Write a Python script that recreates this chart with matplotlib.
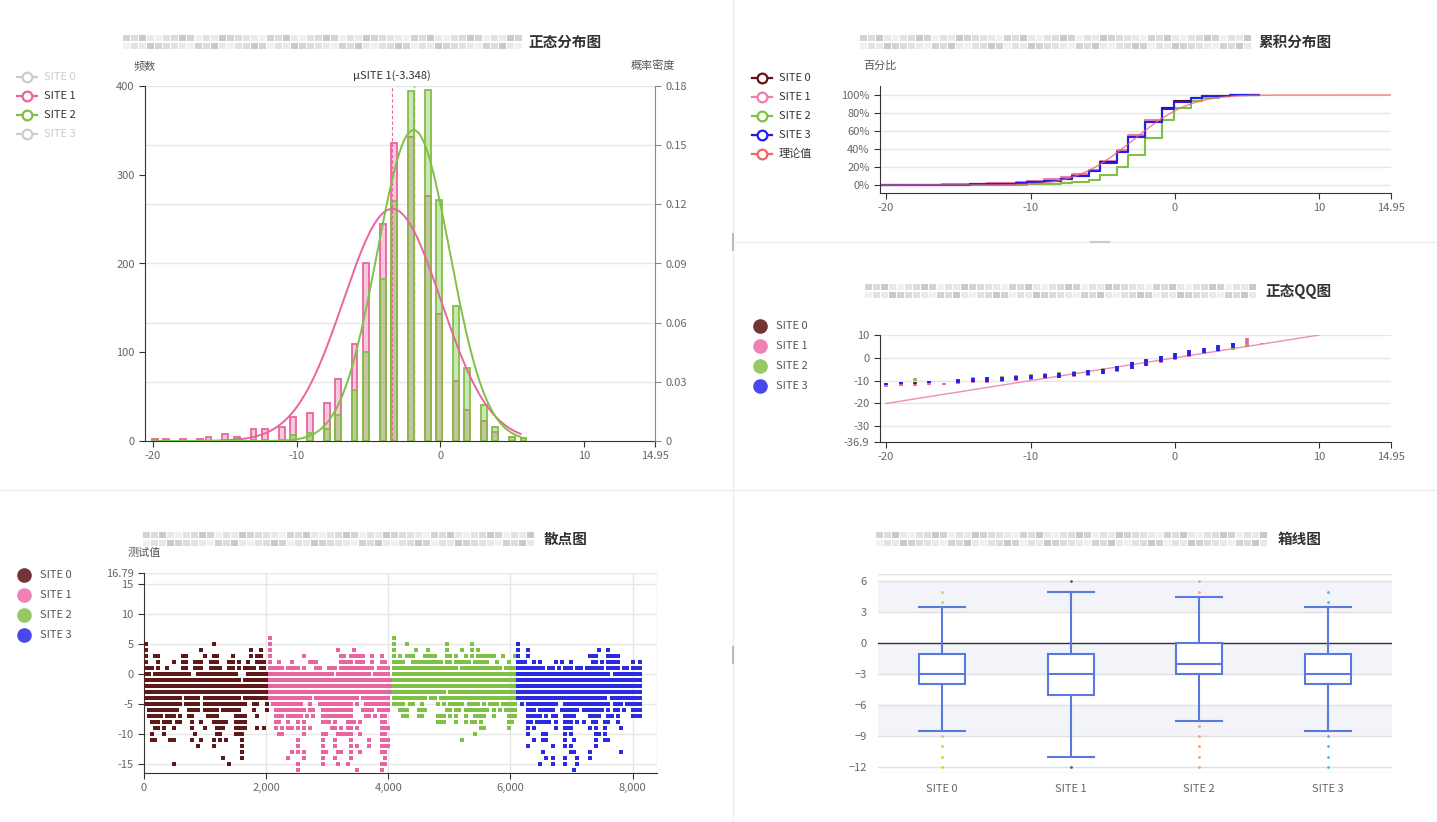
import math
import numpy as np
import matplotlib
matplotlib.use("Agg")
import matplotlib.pyplot as plt
from matplotlib.lines import Line2D
from matplotlib.patches import Rectangle

plt.rcParams['font.family'] = ['Noto Sans CJK SC', 'DejaVu Sans']

# ---------------- data ----------------
SITES = ["SITE 0", "SITE 1", "SITE 2", "SITE 3"]

# histogram bins (bar centres) and counts
BIN_X = [-19.87, -19.1, -17.94, -16.73, -16.13, -14.97, -14.18, -13.0, -12.2,
         -11.04, -10.25, -9.09, -7.91, -7.14, -5.98, -5.18, -4.0, -3.23,
         -2.05, -0.87, -0.07, 1.08, 1.88, 3.04, 3.83, 5.01, 5.79]
HIST_SITE0 = [1, 1, 1, 1, 2, 5, 4, 9, 9, 12, 20, 28, 40, 75, 115, 190, 235,
              350, 340, 300, 160, 75, 38, 16, 10, 3, 0]
HIST_SITE1 = [2, 2, 2, 2, 4, 8, 5, 14, 13, 16, 27, 32, 43, 70, 109, 201, 245,
              336, 342, 276, 143, 68, 35, 22, 10, 5, 3]
HIST_SITE2 = [0, 0, 1, 0, 0, 1, 2, 1, 1, 1, 7, 9, 14, 29, 58, 100, 183,
              270, 394, 396, 271, 152, 82, 40, 16, 5, 3]
HIST_SITE3 = [1, 1, 1, 1, 2, 4, 4, 8, 8, 10, 20, 25, 40, 70, 120, 180, 240,
              360, 330, 300, 160, 80, 40, 15, 10, 3, 2]

# normal fit parameters
MEAN = [-3.2, -3.348, -1.86, -3.1]
STD = [3.3, 3.39, 2.53, 3.2]
CURVE_RANGE = (-20.0, 5.6)
THEORY_MEAN, THEORY_STD = -2.9, 3.1

# QQ plot clusters (theoretical x, sample range lo..hi)
QQ_X = list(range(-20, 7))
QQ_LO = [
    [-12.0, -11.8, -11.6, -11.2, None, -10.8, -10.5, -10.3, -10.0, -9.7, -9.3, -8.9, -8.5, -7.9,
     -7.5, -6.9, -5.7, -4.6, -3.3, -1.8, -0.3, 0.8, 1.9, 3.0, 4.1, None, None],
    [-13.0, -12.5, -12.5, -12.0, -12.0, -11.5, -11.0, -11.0, -10.5, -10.0, -9.8, -9.3, -9.0, -8.3,
     -8.0, -7.3, -6.0, -5.0, -3.6, -2.2, -0.8, 0.5, 1.7, 2.7, 4.0, 4.8, None],
    [None, None, -10.0, None, None, None, -9.5, -9.2, -8.8, -8.5, -8.2, -7.8, -7.4, -6.8,
     -6.2, -5.5, -4.5, -3.5, -2.2, -1.2, -0.3, 0.7, 1.7, 2.7, 3.6, 5.0, 6.0],
    [-12.1, -11.6, None, -11.2, None, -11.0, -10.7, -10.5, -10.1, -9.8, -9.5, -9.0, -8.8, -8.0,
     -7.7, -7.0, -5.8, -4.8, -3.4, -1.9, -0.4, 0.7, 1.9, 2.9, 4.2, None, None],
]
QQ_HI = [
    [-11.0, -10.8, -10.5, -10.3, None, -9.7, -9.2, -9.0, -8.6, -8.2, -7.9, -7.5, -7.0, -6.2,
     -5.7, -5.0, -3.8, -2.0, -0.8, 0.9, 2.0, 3.2, 4.0, 5.2, 6.4, None, None],
    [-12.0, -11.5, -11.5, -11.0, -11.0, -10.5, -10.0, -9.8, -9.5, -9.2, -9.0, -8.5, -8.0, -7.3,
     -6.8, -6.2, -5.0, -3.0, -1.5, 0.0, 1.5, 2.8, 3.8, 5.0, 5.8, 8.5, None],
    [None, None, -9.0, None, None, None, -8.5, -8.3, -8.0, -7.6, -7.2, -6.8, -6.4, -5.8,
     -5.3, -4.6, -3.5, -2.5, -1.2, 0.0, 1.0, 2.0, 3.0, 4.0, 5.0, 6.0, 6.4],
    [-11.0, -10.6, None, -10.3, None, -9.5, -8.8, -8.6, -8.3, -8.0, -7.7, -7.3, -6.7, -6.0,
     -5.4, -4.8, -3.6, -1.8, -0.7, 1.0, 2.2, 3.4, 4.2, 5.4, 6.6, None, None],
]
QQ_LINE_X = [-20, 10]
QQ_LINE_Y = [-20, 10]

# scatter: each site = 2035 tests, drawn as 40 columns; "a-b" = occupied columns per value
N_PER_SITE = 2035
CELLS = 40
SCATTER_SITE0 = {
    5: "0 22", 4: "0 18 34 37", 3: "0 3-4 12-13 19 22-23 28 34 36-37",
    2: "0 4 9 12-13 16-18 21-23 27-28 30 33 36-38",
    1: "0-2 4 7 12-13 16-18 21-24 27-28 30 32-35 37-38",
    0: "0-1 3-14 17-29 33-39", -1: "0-30 32-39", -2: "0-39", -3: "0-39",
    -4: "0-11 13-17 19-30 32-39", -5: "0-11 13-17 19-32 35-36 39",
    -6: "1-10 14-17 19-23 25-30 35 39", -7: "1-5 7-9 11 14-15 20-23 29-32 36",
    -8: "2-4 6-8 10-11 15 18 22-26 29-32", -9: "3-4 6 9 15 19 23-25 29-32 36 38",
    -10: "2 6 16 23-24 29-31", -11: "2-3 8-9 15 18 22 24 26 31",
    -12: "17 22 31", -13: "31", -14: "25 31", -15: "9 27",
}
SCATTER_SITE1 = {
    6: "0", 5: "0", 4: "0 22 27", 3: "0 11 23-24 26-30 33 36",
    2: "0 3 7 13-15 23-26 28-30 33 36-37",
    1: "0-4 6-9 11 15-16 19-21 23-33 35-38",
    0: "0-20 22-32 34-38", -1: "0-39", -2: "0-39", -3: "0-39",
    -4: "0-13 15-28 30-38", -5: "1-10 13 16-26 28 31-38",
    -6: "2-11 13-14 17-26 30-33 35-38", -7: "2-4 6-10 12 14 17-26 31-32 34 36-37",
    -8: "2-3 6 9 11 17-19 21 25-27 29 36-37", -9: "2 4 6-7 9 11 13 20-21 23 25-26 28 36-38",
    -10: "3-4 11 17-18 22-26 29 36-37", -11: "9 17 21 26 32 36-38",
    -12: "9 17 21 26 28 32 36-38", -13: "7 9 11 17-18 22-23 26 29 36-37",
    -14: "6 11 17 21 26 37", -15: "9 17 22 25 36-37", -16: "9 28 36",
}
SCATTER_SITE2 = {
    6: "0", 5: "0 4 17 25", 4: "0 7 11 17 22 25 27",
    3: "0 2 4-6 10-13 17-18 20 23 25 27-32 35 39",
    2: "0-3 6-15 17-18 20-24 26-30 33 37",
    1: "0-20 22-34 36-39", 0: "0-39", -1: "0-39", -2: "0-39",
    -3: "0-16 18-39", -4: "0-10 12-13 15-39",
    -5: "0-3 5-6 9 14 16 18-22 24-27 29 31-33 35-39",
    -6: "2-4 8-10 17-18 20-21 23-30 32 34 36-39",
    -7: "3-4 8-9 14-16 18 20 23 26-29 32 37-39",
    -8: "14-16 20 23 25-26 28 37-38", -9: "28-29 37", -10: "26", -11: "22",
}
SCATTER_SITE3 = {
    5: "0", 4: "0 3 26 29", 3: "0 3 23-25 29-32",
    2: "0-2 5 7 12 14 17 24-25 27 29-32 37 39",
    1: "0-8 10-11 13 15-17 19-20 22-27 29-32 34-35 37-39",
    0: "0-29 31-39", -1: "0-39", -2: "0-39", -3: "0-39",
    -4: "0-28 30-39", -5: "1 3-12 15-29 31-33 35-39",
    -6: "3-5 7-11 14-19 21-27 29 31-32 34 37-39",
    -7: "3-7 9 11-12 15-18 23-26 29-30 32 37-39",
    -8: "3-4 6-10 12 15-17 19 21 24-25 28-29 32",
    -9: "3 5 12 15-17 23 25 28 33", -10: "3 8-9 15 17 25-26 28",
    -11: "5 8 9 15 18 25 28-29", -12: "3 11 15 17 25",
    -13: "8 17-18 23 33", -14: "9 11 15 19 23", -15: "7 11 15 19", -16: "18",
}

# box plot statistics
BOX_WHISLO = [-8.5, -11, -7.5, -8.5]
BOX_Q1 = [-4, -5, -3, -4]
BOX_MED = [-3, -3, -2, -3]
BOX_Q3 = [-1, -1, 0, -1]
BOX_WHISHI = [3.5, 5, 4.5, 3.5]
BOX_FLIERS = [[5, 4, -9, -10, -11, -12], [6, -12],
              [6, 5, -8, -9, -10, -11, -12], [5, 4, -9, -10, -11, -12]]

# ---------------- style ----------------
C_SITE = ['#5e1a1a', '#e8659f', '#80c045', '#2b2be6']
C_LEG = ['#723434', '#ef80b8', '#96c962', '#4848ee']
C_CDF = ['#5a0a0a', '#f07cb0', '#80c045', '#1f1fee']
C_THEORY = '#ee6666'
C_BOX = '#5b78e0'
C_FLIER = ['#c0d83c', '#4e5a80', '#fc9c62', '#3fb8e8']
GRID = '#e6e6e6'
TXT = '#666666'
AX = '#333333'

W, H = 1437, 822
fig = plt.figure(figsize=(W / 100, H / 100), dpi=100)


def rect(l, t, r, b):
    return [l / W, 1 - b / H, (r - l) / W, (b - t) / H]


def fx(x):
    return x / W


def fy(y):
    return 1 - y / H


def mosaic(x0, x1, y0, y1):
    shades = ['#d3d3d3', '#e9e9e9', '#dcdcdc', '#f1f1f1', '#c9c9c9', '#e2e2e2']
    n = int((x1 - x0) / 8)
    for row, yy in enumerate((y0, y1)):
        for i in range(n):
            c = shades[(i * 2 + row * 3 + i // 3) % len(shades)]
            fig.add_artist(Rectangle((fx(x0 + i * 8), fy(yy + 6)), 7 / W, 6 / H,
                                     transform=fig.transFigure, color=c, lw=0))


def title(x0, x1, y, text):
    mosaic(x0, x1, y - 7, y + 1)
    fig.text(fx(x1 + 3), fy(y), text, fontsize=10.5, fontweight='bold',
             color='#333333', va='center', ha='left')


def legend_hollow(x, y, color, text, tcolor):
    fig.add_artist(Line2D([fx(x - 10), fx(x + 10)], [fy(y), fy(y)], color=color, lw=1.6,
                          transform=fig.transFigure))
    fig.add_artist(Line2D([fx(x)], [fy(y)], marker='o', markersize=7, mfc='white',
                          mec=color, mew=1.6, transform=fig.transFigure))
    fig.text(fx(x + 17), fy(y), text, fontsize=8, color=tcolor, va='center', ha='left')


def legend_dot(x, y, color, text):
    fig.add_artist(Line2D([fx(x)], [fy(y)], marker='o', markersize=9.5, mfc=color,
                          mec=color, transform=fig.transFigure))
    fig.text(fx(x + 16), fy(y), text, fontsize=8, color='#555555', va='center', ha='left')


def style_axis(ax):
    for s in ['top', 'right']:
        ax.spines[s].set_visible(False)
    for s in ['left', 'bottom']:
        ax.spines[s].set_color(AX)
    ax.tick_params(colors=AX, labelcolor=TXT, labelsize=8, length=4, width=0.8)


def norm_pdf(x, m, s):
    return np.exp(-0.5 * ((x - m) / s) ** 2) / (s * math.sqrt(2 * math.pi))


# panel separators
fig.add_artist(Line2D([fx(733), fx(733)], [0, 1], color='#eeeeee', lw=1, transform=fig.transFigure))
fig.add_artist(Line2D([0, 1], [fy(490), fy(490)], color='#eeeeee', lw=1, transform=fig.transFigure))
fig.add_artist(Line2D([fx(733), 1], [fy(242), fy(242)], color='#eeeeee', lw=1, transform=fig.transFigure))
fig.add_artist(Line2D([fx(733), fx(733)], [fy(234), fy(250)], color='#bbbbbb', lw=1.5, transform=fig.transFigure))
fig.add_artist(Line2D([fx(733), fx(733)], [fy(647), fy(663)], color='#bbbbbb', lw=1.5, transform=fig.transFigure))
fig.add_artist(Line2D([fx(1091), fx(1109)], [fy(242), fy(242)], color='#cccccc', lw=1.5, transform=fig.transFigure))

# ---------------- histogram ----------------
xt = [-20, -10, 0, 10, 14.95]
xtl = ['-20', '-10', '0', '10', '14.95']

ax = fig.add_axes(rect(145, 86, 655, 441))
style_axis(ax)
ax.set_xlim(-20.56, 14.95)
ax.set_ylim(0, 400)
ax.set_xticks(xt)
ax.set_xticklabels(xtl)
ax.set_yticks([0, 100, 200, 300, 400])
for v in np.arange(0.03, 0.19, 0.03):
    ax.axhline(v / 0.18 * 400, color=GRID, lw=1, zorder=0)
ax.axvline(MEAN[2], color=C_SITE[2], lw=1, ls='--', zorder=1)
ax.bar(BIN_X, HIST_SITE1, width=0.4, color=C_SITE[1], alpha=0.35, lw=0, zorder=2)
ax.bar(BIN_X, HIST_SITE1, width=0.4, fill=False, edgecolor=C_SITE[1], lw=1.3, zorder=2)
ax.bar(BIN_X, HIST_SITE2, width=0.4, color=C_SITE[2], alpha=0.4, lw=0, zorder=3)
ax.bar(BIN_X, HIST_SITE2, width=0.4, fill=False, edgecolor=C_SITE[2], lw=1.3, zorder=3)
ax.axvline(MEAN[1], color=C_SITE[1], lw=0.8, ls=(0, (3, 2)), zorder=4)
ax.text(MEAN[1], 412, 'μSITE 1(%.3f)' % MEAN[1], ha='center', va='center', fontsize=8, color='#333333')
ax2 = ax.twinx()
ax2.set_ylim(0, 0.18)
ax2.set_yticks(np.arange(0, 0.19, 0.03))
ax2.set_yticklabels(['0', '0.03', '0.06', '0.09', '0.12', '0.15', '0.18'])
for s in ['top', 'left', 'bottom']:
    ax2.spines[s].set_visible(False)
ax2.spines['right'].set_color('#888888')
ax2.tick_params(colors='#888888', labelcolor=TXT, labelsize=8, length=4, width=0.8)
cx = np.linspace(CURVE_RANGE[0], CURVE_RANGE[1], 300)
ax2.plot(cx, norm_pdf(cx, MEAN[1], STD[1]), color=C_SITE[1], lw=1.4)
ax2.plot(cx, norm_pdf(cx, MEAN[2], STD[2]), color=C_SITE[2], lw=1.4)
fig.text(fx(145), fy(66), '频数', fontsize=8, color='#555555', ha='center', va='center')
fig.text(fx(653), fy(66), '概率密度', fontsize=8, color='#555555', ha='center', va='center')
title(123, 525, 42, '正态分布图')
hist_active = [False, True, True, False]
for i, name in enumerate(SITES):
    if hist_active[i]:
        legend_hollow(27, 77 + 19 * i, C_SITE[i], name, '#333333')
    else:
        legend_hollow(27, 77 + 19 * i, '#cccccc', name, '#cccccc')

# ---------------- CDF ----------------
ax = fig.add_axes(rect(880, 86, 1391, 193))
style_axis(ax)
ax.set_xlim(-20.42, 14.95)
ax.set_ylim(-0.089, 1.1)
ax.set_xticks(xt)
ax.set_xticklabels(xtl)
ax.set_yticks([0, 0.2, 0.4, 0.6, 0.8, 1.0])
ax.set_yticklabels(['0%', '20%', '40%', '60%', '80%', '100%'])
for v in [0, 0.2, 0.4, 0.6, 0.8, 1.0]:
    ax.axhline(v, color=GRID, lw=1, zorder=0)
tx = np.linspace(-20.42, 14.95, 300)
ty = [0.5 * (1 + math.erf((t - THEORY_MEAN) / (THEORY_STD * math.sqrt(2)))) for t in tx]
hists = [HIST_SITE0, HIST_SITE1, HIST_SITE2, HIST_SITE3]
for i in [2, 1, 0, 3]:
    h = np.array(hists[i], dtype=float)
    cdf = np.cumsum(h) / h.sum()
    ax.step([-20.42] + BIN_X, [0] + list(cdf), where='post', color=C_CDF[i], lw=1.5)
ax.plot(tx, ty, color=C_THEORY, lw=1, alpha=0.8)
fig.text(fx(880), fy(66), '百分比', fontsize=8, color='#555555', ha='center', va='center')
title(860, 1256, 42, '累积分布图')
for i, name in enumerate(SITES):
    legend_hollow(762, 78 + 19 * i, C_CDF[i] if i != 0 else '#6a1010', name, '#333333')
legend_hollow(762, 154, C_THEORY, '理论值', '#333333')

# ---------------- QQ ----------------
ax = fig.add_axes(rect(880, 335, 1391, 442))
style_axis(ax)
ax.set_xlim(-20.42, 14.95)
ax.set_ylim(-36.9, 10)
ax.set_xticks(xt)
ax.set_xticklabels(xtl)
ax.set_yticks([10, 0, -10, -20, -30, -36.9])
ax.set_yticklabels(['10', '0', '-10', '-20', '-30', '-36.9'])
for v in [10, 0, -10, -20, -30]:
    ax.axhline(v, color=GRID, lw=1, zorder=0)
ax.plot(QQ_LINE_X, QQ_LINE_Y, color='#f08cb8', lw=1, zorder=2)
for i in [0, 1, 2, 3]:
    xs = [x for x, lo in zip(QQ_X, QQ_LO[i]) if lo is not None]
    los = [lo for lo in QQ_LO[i] if lo is not None]
    his = [hi for hi in QQ_HI[i] if hi is not None]
    ax.vlines(xs, los, his, color=C_SITE[i] if i != 3 else '#2020ee', lw=2.6, zorder=3)
title(865, 1262, 291, '正态QQ图')
for i, name in enumerate(SITES):
    legend_dot(760, 326 + 20 * i, C_LEG[i], name)

# ---------------- scatter ----------------
ax = fig.add_axes(rect(144, 573, 657, 773))
style_axis(ax)
ax.set_xlim(0, 8400)
ax.set_ylim(-16.5, 16.79)
ax.set_xticks([0, 2000, 4000, 6000, 8000])
ax.set_xticklabels(['0', '2,000', '4,000', '6,000', '8,000'])
ax.set_yticks([16.79, 15, 10, 5, 0, -5, -10, -15])
ax.set_yticklabels(['16.79', '15', '10', '5', '0', '-5', '-10', '-15'])
for v in [16.79, 15, 10, 5, 0, -5, -10, -15]:
    ax.axhline(v, color=GRID, lw=1, zorder=0)
for v in [2000, 4000, 6000, 8000, 8400]:
    ax.axvline(v, color=GRID, lw=1, zorder=0)
cell = N_PER_SITE / CELLS
for i, rows in enumerate([SCATTER_SITE0, SCATTER_SITE1, SCATTER_SITE2, SCATTER_SITE3]):
    px, py = [], []
    for val, spec in rows.items():
        for part in spec.split():
            a, _, b = part.partition('-')
            a = int(a)
            b = int(b) if b else a
            for c in range(a, b + 1):
                px.append(i * N_PER_SITE + (c + 0.5) * cell)
                py.append(val)
    ax.scatter(px, py, s=6, marker='s', color=C_SITE[i], lw=0, zorder=3)
fig.text(fx(144), fy(553), '测试值', fontsize=8, color='#555555', ha='center', va='center')
title(143, 540, 539, '散点图')
for i, name in enumerate(SITES):
    legend_dot(24, 575 + 20 * i, C_LEG[i], name)

# ---------------- box plot ----------------
ax = fig.add_axes(rect(878, 574, 1392, 773))
for s in ax.spines.values():
    s.set_visible(False)
ax.set_xlim(-0.5, 3.5)
ax.set_ylim(-12.58, 6.71)
for lo, hi in [(3, 6), (-3, 0), (-9, -6)]:
    ax.axhspan(lo, hi, color='#f3f4f9', lw=0, zorder=0)
for v in [6.71, 6, 3, -3, -6, -9, -12, -12.58]:
    ax.axhline(v, color='#e0e0e0', lw=1, zorder=1)
ax.axhline(0, color=AX, lw=1, zorder=1)
stats = []
for i in range(4):
    stats.append({'med': BOX_MED[i], 'q1': BOX_Q1[i], 'q3': BOX_Q3[i],
                  'whislo': BOX_WHISLO[i], 'whishi': BOX_WHISHI[i], 'fliers': []})
lp = dict(color=C_BOX, lw=1.5)
ax.bxp(stats, positions=[0, 1, 2, 3], widths=0.36, capwidths=0.36, patch_artist=True,
       showfliers=False,
       boxprops=dict(facecolor='white', edgecolor=C_BOX, lw=1.5),
       medianprops=lp, whiskerprops=lp, capprops=lp, zorder=3)
for i in range(4):
    ax.scatter([i] * len(BOX_FLIERS[i]), BOX_FLIERS[i], s=4, color=C_FLIER[i], lw=0, zorder=4)
ax.set_xticks([0, 1, 2, 3])
ax.set_xticklabels(SITES)
ax.set_yticks([6, 3, 0, -3, -6, -9, -12])
ax.tick_params(length=0, labelcolor=TXT, labelsize=8, pad=8)
title(876, 1275, 539, '箱线图')

fig.savefig('out.png', dpi=100)
